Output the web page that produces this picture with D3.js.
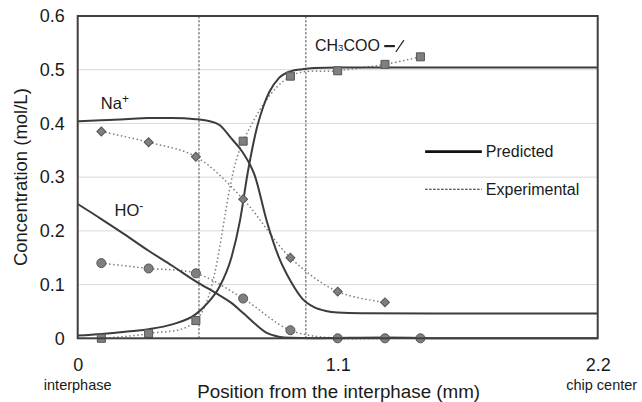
<!DOCTYPE html>
<html>
<head>
<meta charset="utf-8">
<script src="https://cdn.jsdelivr.net/npm/d3@7"></script>
<style>
  body { margin: 0; background: #fff; }
  svg text { font-family: "Liberation Sans", Arial, sans-serif; fill: #1a1a1a; }
</style>
</head>
<body>
<svg id="chart" width="642" height="402"></svg>
<script>
// experimental sample positions (mm) and measured values (mol/L)
const expX = [0.1, 0.3, 0.5, 0.7, 0.9, 1.1, 1.3, 1.45];
const expNa = [0.385, 0.365, 0.338, 0.259, 0.150, 0.087, 0.067];
const expHO = [0.140, 0.130, 0.121, 0.074, 0.015, 0, 0, 0];
const expAc = [0, 0.009, 0.033, 0.367, 0.488, 0.498, 0.510, 0.524];

// predicted profiles
const predNaX = [0, 0.1, 0.2, 0.3, 0.4, 0.5, 0.55, 0.6, 0.65, 0.7, 0.75, 0.8, 0.85, 0.9, 0.95, 1.0, 1.05, 1.1, 1.2, 1.5, 2.2];
const predNa  = [0.404, 0.406, 0.408, 0.410, 0.410, 0.408, 0.405, 0.397, 0.372, 0.345, 0.302, 0.218, 0.152, 0.107, 0.074, 0.058, 0.051, 0.048, 0.0465, 0.046, 0.046];
const predHOX = [0, 0.1, 0.2, 0.3, 0.4, 0.5, 0.6, 0.65, 0.7, 0.75, 0.8, 0.85, 0.9, 1.0, 1.3, 1.6, 2.2];
const predHO  = [0.250, 0.222, 0.193, 0.163, 0.135, 0.106, 0.080, 0.066, 0.047, 0.027, 0.010, 0.003, 0.0008, 0.0002, 0.0015, 0, 0];
const predAcX = [0, 0.1, 0.2, 0.3, 0.4, 0.5, 0.55, 0.6, 0.65, 0.687, 0.72, 0.76, 0.785, 0.81, 0.85, 0.9, 0.95, 1.0, 1.1, 2.2];
const predAc  = [0.005, 0.008, 0.012, 0.017, 0.026, 0.045, 0.066, 0.096, 0.150, 0.220, 0.310, 0.395, 0.431, 0.458, 0.484, 0.497, 0.501, 0.503, 0.504, 0.504];

const xTicks = [0, 1.1, 2.2];
const yTicks = [0, 0.1, 0.2, 0.3, 0.4, 0.5, 0.6];
const guideX = [0.513, 0.965];

const svg = d3.select("#chart");
const margin = { left: 77.7, right: 44.3, top: 16, bottom: 63.7 };
const width = 642 - margin.left - margin.right;
const height = 402 - margin.top - margin.bottom;

const x = d3.scaleLinear().domain([0, 2.2]).range([0, width]);
const y = d3.scaleLinear().domain([0, 0.6]).range([height, 0]);

const g = svg.append("g").attr("transform", "translate(" + margin.left + "," + margin.top + ")");

// horizontal gridlines
g.selectAll(".grid")
    .data(yTicks.slice(1, -1))
    .enter().append("line")
    .attr("x1", 0).attr("x2", width)
    .attr("y1", d => y(d)).attr("y2", d => y(d))
    .attr("stroke", "#d9d9d9").attr("stroke-width", 1);

// vertical dashed guides
g.selectAll(".guide")
    .data(guideX)
    .enter().append("line")
    .attr("x1", d => x(d)).attr("x2", d => x(d))
    .attr("y1", 0).attr("y2", height)
    .attr("stroke", "#8c8c8c").attr("stroke-width", 1.5)
    .attr("stroke-dasharray", "2.5,1.5");

// axes
g.append("g")
    .call(d3.axisLeft(y).tickValues(yTicks).tickSize(0).tickPadding(13)
        .tickFormat(d => d === 0 ? "0" : d.toFixed(1)))
    .call(a => a.select(".domain").remove())
    .selectAll("text").style("font-size", "18px").attr("font-family", null);

g.append("g")
    .attr("transform", "translate(0," + height + ")")
    .call(d3.axisBottom(x).tickValues(xTicks).tickSize(0).tickPadding(20)
        .tickFormat(d => d === 0 ? "0" : d.toFixed(1)))
    .call(a => a.select(".domain").remove())
    .selectAll("text").style("font-size", "18px").attr("font-family", null);

// experimental lines (smoothed, dotted)
const expLine = d3.line()
    .x(d => x(d[0])).y(d => y(d[1]))
    .curve(d3.curveCatmullRom.alpha(0.5));

const expSeries = [
    { vals: expNa, shape: d3.symbolSquare, size: 40, rot: 45 },
    { vals: expHO, shape: d3.symbolCircle, size: 64, rot: 0 },
    { vals: expAc, shape: d3.symbolSquare, size: 64, rot: 0 }
];

expSeries.forEach(s => {
    const pts = s.vals.map((v, i) => [expX[i], v]);
    g.append("path")
        .datum(pts)
        .attr("d", expLine)
        .attr("fill", "none")
        .attr("stroke", "#7f7f7f")
        .attr("stroke-width", 1.5)
        .attr("stroke-dasharray", "1.5,2.5");
});

// predicted lines
const predLine = d3.line()
    .x(d => x(d[0])).y(d => y(d[1]))
    .curve(d3.curveMonotoneX);

[[predNaX, predNa], [predHOX, predHO], [predAcX, predAc]].forEach(p => {
    g.append("path")
        .datum(p[0].map((v, i) => [v, p[1][i]]))
        .attr("d", predLine)
        .attr("fill", "none")
        .attr("stroke", "#3c3c3c")
        .attr("stroke-width", 2);
});

// markers
expSeries.forEach(s => {
    g.selectAll(null)
        .data(s.vals.map((v, i) => [expX[i], v]))
        .enter().append("path")
        .attr("d", d3.symbol().type(s.shape).size(s.size))
        .attr("transform", d => "translate(" + x(d[0]) + "," + y(d[1]) + ") rotate(" + s.rot + ")")
        .attr("fill", "#7f7f7f")
        .attr("stroke", "#555")
        .attr("stroke-width", 1);
});

// plot frame
g.append("rect")
    .attr("x", 0).attr("y", 0)
    .attr("width", width).attr("height", height)
    .attr("fill", "none")
    .attr("stroke", "#404040").attr("stroke-width", 2);

// species labels
const na = g.append("text").attr("x", x(0.098)).attr("y", y(0.427)).style("font-size", "16.5px");
na.append("tspan").text("Na");
na.append("tspan").attr("dy", -6).style("font-size", "12px").text("+");

const ho = g.append("text").attr("x", x(0.156)).attr("y", y(0.227)).style("font-size", "16.5px");
ho.append("tspan").text("HO");
ho.append("tspan").attr("dy", -6).style("font-size", "12px").text("-");

const ac = g.append("text").attr("x", x(1.004)).attr("y", y(0.535)).style("font-size", "16px");
ac.append("tspan").text("CH");
ac.append("tspan").style("font-size", "9.5px").text("3");
ac.append("tspan").text("COO");

// charge dash and leader
g.append("line")
    .attr("x1", x(1.297)).attr("x2", x(1.342))
    .attr("y1", y(0.544)).attr("y2", y(0.544))
    .attr("stroke", "#222").attr("stroke-width", 2.2);
g.append("line")
    .attr("x1", x(1.346)).attr("x2", x(1.380))
    .attr("y1", y(0.533)).attr("y2", y(0.555))
    .attr("stroke", "#222").attr("stroke-width", 1.2);

// legend
const legX0 = x(1.47), legX1 = x(1.71);
g.append("line")
    .attr("x1", legX0).attr("x2", legX1)
    .attr("y1", y(0.3475)).attr("y2", y(0.3475))
    .attr("stroke", "#111").attr("stroke-width", 2.8);
g.append("text").attr("x", legX1 + 4).attr("y", y(0.3475) + 5.5)
    .style("font-size", "16px").text("Predicted");
g.append("line")
    .attr("x1", legX0).attr("x2", legX1)
    .attr("y1", y(0.2775)).attr("y2", y(0.2775))
    .attr("stroke", "#222").attr("stroke-width", 1)
    .attr("stroke-dasharray", "2.5,1.5");
g.append("text").attr("x", legX1 + 4).attr("y", y(0.2775) + 5.5)
    .style("font-size", "16px").text("Experimental");

// axis titles
svg.append("text")
    .attr("transform", "translate(27," + (margin.top + height / 2) + ") rotate(-90)")
    .attr("text-anchor", "middle")
    .style("font-size", "18.5px")
    .text("Concentration (mol/L)");

svg.append("text")
    .attr("x", margin.left + x(1.1) + 1).attr("y", 398)
    .attr("text-anchor", "middle")
    .style("font-size", "18.8px")
    .text("Position from the interphase (mm)");

svg.append("text")
    .attr("x", margin.left + x(0)).attr("y", 390)
    .attr("text-anchor", "middle")
    .style("font-size", "14.5px")
    .text("interphase");

svg.append("text")
    .attr("x", margin.left + x(2.2) + 4).attr("y", 390)
    .attr("text-anchor", "middle")
    .style("font-size", "14.5px")
    .text("chip center");
</script>
</body>
</html>
